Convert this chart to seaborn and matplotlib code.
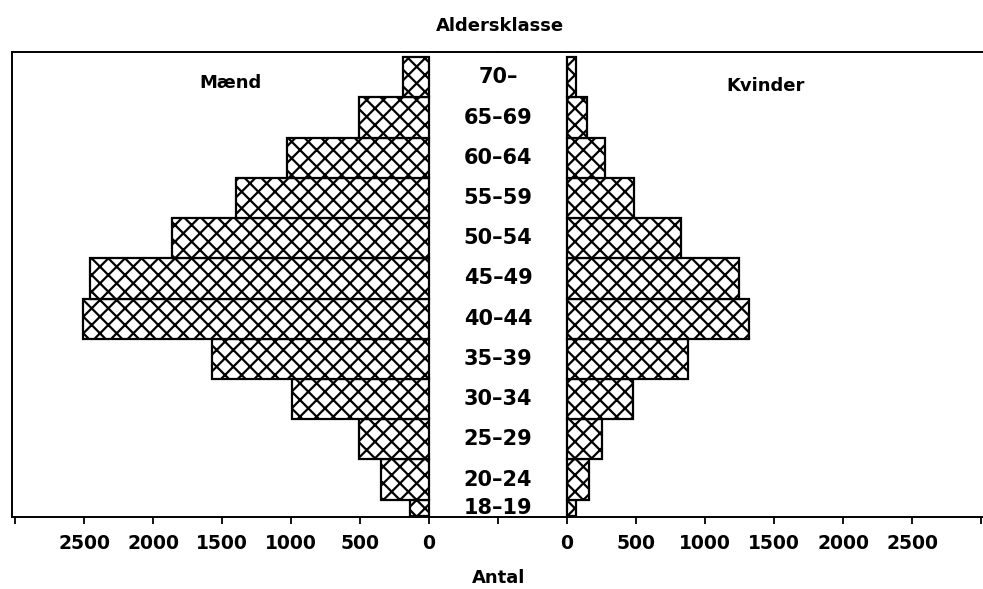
import numpy as np
import pandas as pd
import matplotlib
matplotlib.use("Agg")
import matplotlib.pyplot as plt
import seaborn as sns

# ---------------------------
# Data
# ---------------------------
age_labels = ['18–19', '20–24', '25–29', '30–34', '35–39', '40–44',
              '45–49', '50–54', '55–59', '60–64', '65–69', '70–']
age_edges = [18, 20, 25, 30, 35, 40, 45, 50, 55, 60, 65, 70, 75]
maend = [135, 345, 505, 990, 1575, 2510, 2460, 1860, 1400, 1030, 510, 190]
kvinder = [65, 160, 255, 475, 875, 1320, 1245, 825, 485, 275, 145, 65]

df = pd.DataFrame({
    'age': age_labels,
    'mid': [(a + b) / 2 for a, b in zip(age_edges[:-1], age_edges[1:])],
    'maend': maend,
    'kvinder': kvinder,
})

# ---------------------------
# Style
# ---------------------------
sns.set_style("white")
plt.rcParams['font.family'] = ['DejaVu Sans']
plt.rcParams['font.weight'] = 'bold'
plt.rcParams['text.color'] = 'black'
plt.rcParams['xtick.color'] = 'black'
plt.rcParams['hatch.linewidth'] = 1.6
plt.rcParams['hatch.color'] = 'black'

W, H = 983, 589
fig = plt.figure(figsize=(W / 100, H / 100), dpi=100)

y0, y1 = 517, 52
bottom = (H - y0) / H
height = (y0 - y1) / H
axL = fig.add_axes([12 / W, bottom, (498 - 12) / W, height])
axR = fig.add_axes([498 / W, bottom, (983 - 498) / W, height])
axR.patch.set_visible(False)

bar_kw = dict(bins=age_edges, color='white', edgecolor='black',
              hatch='xx', linewidth=1.6, alpha=1)
sns.histplot(data=df, y='mid', weights='maend', ax=axL, **bar_kw)
sns.histplot(data=df, y='mid', weights='kvinder', ax=axR, **bar_kw)

ylim = (17.85, 75.65)
axL.set_xlim(3022, -500)
axR.set_xlim(-500, 3014)
for ax in (axL, axR):
    ax.set_ylim(*ylim)
    ax.set_xlabel('')
    ax.set_ylabel('')
    ax.set_yticks([])
    ax.tick_params(axis='x', direction='out', length=5, width=1.3,
                   pad=7, labelsize=13.5, bottom=True, colors='black')
    for s in ax.spines.values():
        s.set_linewidth(1.4)
        s.set_color('black')

axL.spines['right'].set_visible(False)
axR.spines['left'].set_visible(False)
axR.spines['right'].set_visible(False)

left_ticks = [3000, 2500, 2000, 1500, 1000, 500, 0, -500]
axL.set_xticks(left_ticks)
axL.set_xticklabels(['' if t in (3000, -500) else str(t) for t in left_ticks])
right_ticks = [0, 500, 1000, 1500, 2000, 2500, 3000]
axR.set_xticks(right_ticks)
axR.set_xticklabels(['' if t == 3000 else str(t) for t in right_ticks])

# age class labels in the central gap
for lab, m in zip(df['age'], df['mid']):
    axL.text(-500, m, lab, ha='center', va='center', fontsize=15,
             fontweight='bold', clip_on=False, zorder=5)

axL.text(0.4506, 0.933, 'Mænd', transform=axL.transAxes, ha='center',
         va='center', fontsize=13, fontweight='bold')
axR.text(0.5526, 0.927, 'Kvinder', transform=axR.transAxes, ha='center',
         va='center', fontsize=13, fontweight='bold')

fig.text(500 / W, 1 - 26 / H, 'Aldersklasse', ha='center', va='center',
         fontsize=13, fontweight='bold')
fig.text(499 / W, 1 - 578 / H, 'Antal', ha='center', va='center',
         fontsize=13, fontweight='bold')

fig.savefig("out.png", dpi=100)
